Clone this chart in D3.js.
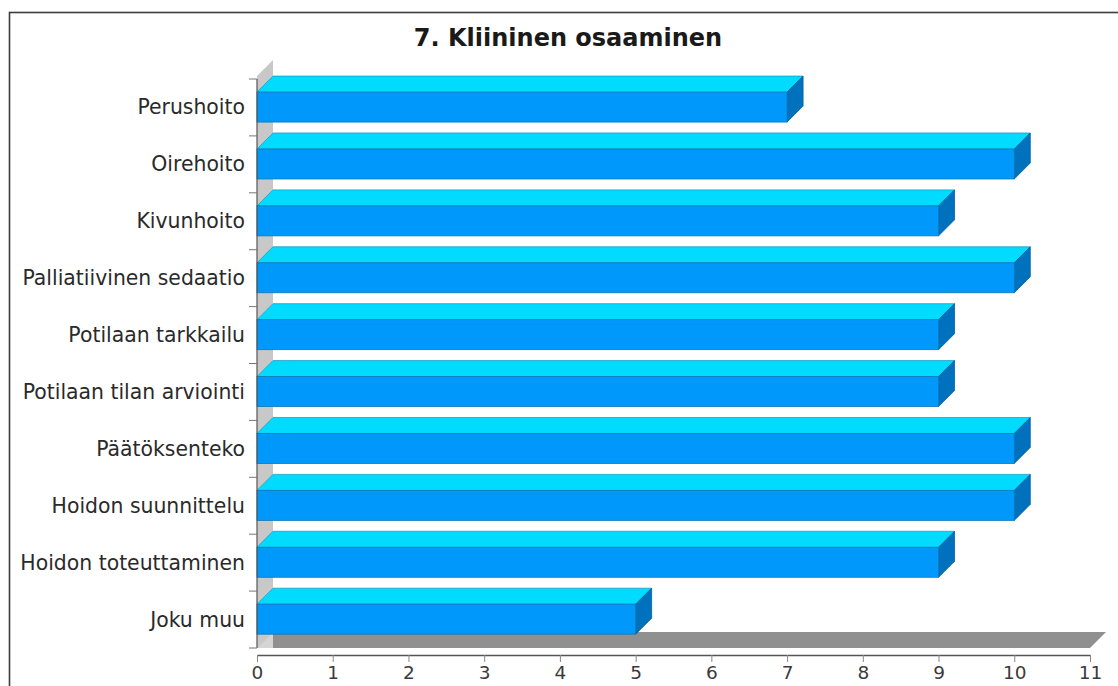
<!DOCTYPE html>
<html>
<head>
<meta charset="utf-8">
<script src="https://cdn.jsdelivr.net/npm/d3@7/dist/d3.min.js"></script>
<style>
  html, body { margin: 0; padding: 0; background: #ffffff; }
  svg { display: block; }
</style>
</head>
<body>
<svg id="chart" width="1118" height="686"></svg>
<script>
// Survey answers: clinical competence topics and their counts
const categories = [
  "Perushoito",
  "Oirehoito",
  "Kivunhoito",
  "Palliatiivinen sedaatio",
  "Potilaan tarkkailu",
  "Potilaan tilan arviointi",
  "Päätöksenteko",
  "Hoidon suunnittelu",
  "Hoidon toteuttaminen",
  "Joku muu"
];
const values = [7, 10, 9, 10, 9, 9, 10, 10, 9, 5];
const xTickValues = [0, 1, 2, 3, 4, 5, 6, 7, 8, 9, 10, 11];
const chartTitle = "7. Kliininen osaaminen";

const svg = d3.select("#chart");
const W = 1118, H = 686;

// layout of the pseudo-3D plot
const plotLeft = 257, plotRight = 1090, plotTop = 79, plotBottom = 648;
const depth = 16; // 3D offset (right and up)

const x = d3.scaleLinear().domain([0, 11]).range([plotLeft, plotRight]);
const y = d3.scaleBand().domain(categories).range([plotTop, plotBottom]).padding(0);

// outer frame
svg.append("rect")
  .attr("x", 9.5).attr("y", 12.5)
  .attr("width", W + 20).attr("height", H + 20)
  .attr("fill", "#ffffff")
  .attr("stroke", "#3c3c3c").attr("stroke-width", 1.6);

// title
svg.append("text")
  .attr("x", 568).attr("y", 46)
  .attr("text-anchor", "middle")
  .attr("font-family", "DejaVu Sans, sans-serif")
  .attr("font-weight", "bold")
  .attr("font-size", 24)
  .attr("fill", "#1a1a1a")
  .text(chartTitle);

const pts = a => a.map(p => p.join(",")).join(" ");

// left wall
svg.append("polygon")
  .attr("points", pts([[plotLeft, plotTop - 3], [plotLeft + depth, plotTop - 3 - depth], [plotLeft + depth, plotBottom - depth], [plotLeft, plotBottom]]))
  .attr("fill", "#c8c8c8");

// floor
svg.append("polygon")
  .attr("points", pts([[plotLeft, plotBottom], [plotRight, plotBottom], [plotRight + depth, plotBottom - depth], [plotLeft + depth, plotBottom - depth]]))
  .attr("fill", "#909090");
svg.append("polygon")
  .attr("points", pts([[plotLeft, plotBottom], [plotLeft + depth, plotBottom - depth], [plotLeft + depth, plotBottom]]))
  .attr("fill", "#d4d4d4");

// bars
const bw = y.bandwidth();
const barOff = bw * 0.23, barH = bw * 0.527;
const rows = categories.map((c, i) => ({ c, v: values[i] }));

const bars = svg.append("g").selectAll("g").data(rows).join("g");

// top face
bars.append("polygon")
  .attr("points", d => {
    const y0 = y(d.c) + barOff, x0 = x(0), x1 = x(d.v);
    return pts([[x0, y0], [x1, y0], [x1 + depth, y0 - depth], [x0 + depth, y0 - depth]]);
  })
  .attr("fill", "#00dbff")
  .attr("stroke", "#1a9fc9").attr("stroke-width", 0.8).attr("stroke-linejoin", "round");

// side face
bars.append("polygon")
  .attr("points", d => {
    const y0 = y(d.c) + barOff, x1 = x(d.v);
    return pts([[x1, y0], [x1 + depth, y0 - depth], [x1 + depth, y0 + barH - depth], [x1, y0 + barH]]);
  })
  .attr("fill", "#0071bd")
  .attr("stroke", "#005f9f").attr("stroke-width", 0.8).attr("stroke-linejoin", "round");

// front face
bars.append("rect")
  .attr("x", x(0))
  .attr("y", d => y(d.c) + barOff)
  .attr("width", d => x(d.v) - x(0))
  .attr("height", barH)
  .attr("fill", "#0098fa")
  .attr("stroke", "#0a78b8").attr("stroke-width", 0.8);

// category axis
const yAxis = svg.append("g");
yAxis.append("line")
  .attr("x1", plotLeft).attr("x2", plotLeft).attr("y1", plotTop).attr("y2", plotBottom)
  .attr("stroke", "#555555").attr("stroke-width", 1.2);
const boundaries = categories.map(c => y(c)).concat([y.range()[1]]);
yAxis.selectAll("line.tick").data(boundaries).join("line")
  .attr("class", "tick")
  .attr("x1", plotLeft - 8).attr("x2", plotLeft)
  .attr("y1", d => d).attr("y2", d => d)
  .attr("stroke", "#777777").attr("stroke-width", 1);
yAxis.selectAll("text").data(rows).join("text")
  .attr("x", plotLeft - 12)
  .attr("y", d => y(d.c) + barOff + barH / 2)
  .attr("dy", "0.36em")
  .attr("text-anchor", "end")
  .attr("font-family", "DejaVu Sans, sans-serif")
  .attr("font-size", 20.4)
  .attr("fill", "#2a2a2a")
  .text(d => d.c);

// value axis
const xAxis = svg.append("g")
  .attr("transform", `translate(0,655)`)
  .call(d3.axisBottom(x).tickValues(xTickValues).tickSize(7).tickSizeOuter(0).tickPadding(4));
xAxis.select(".domain").attr("stroke", "#555555").attr("stroke-width", 1.5);
xAxis.selectAll(".tick line").attr("stroke", "#888888");
xAxis.selectAll(".tick text")
  .attr("font-family", "DejaVu Sans, sans-serif")
  .attr("font-size", 18.5)
  .attr("fill", "#3a3a3a");
</script>
</body>
</html>
